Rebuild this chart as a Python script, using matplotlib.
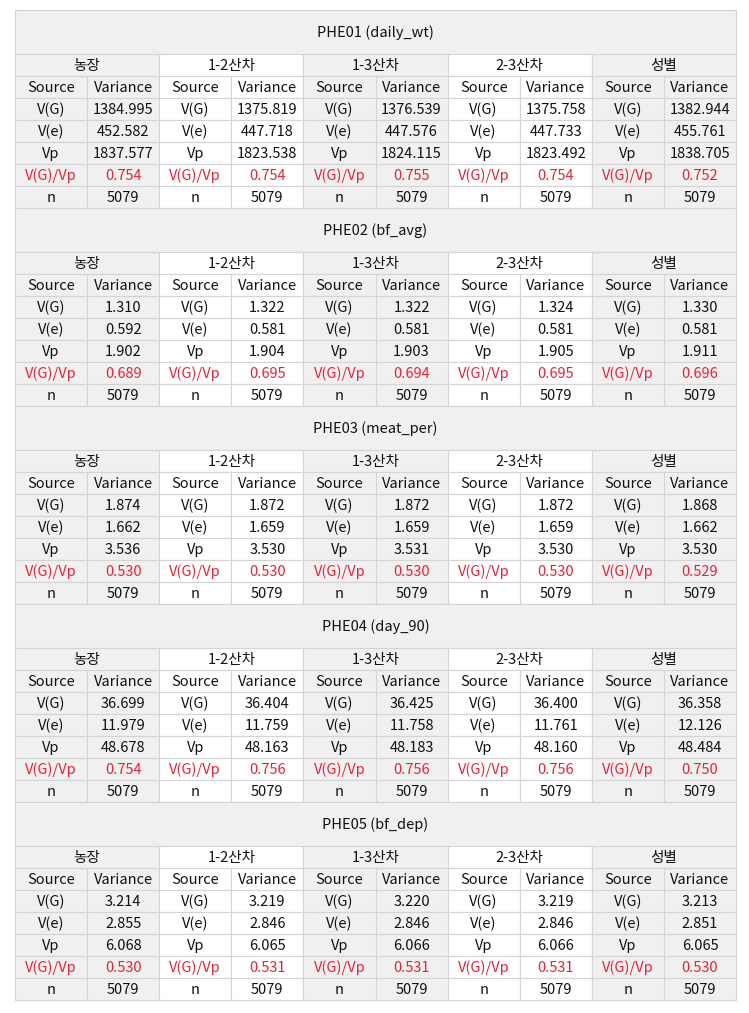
import matplotlib.pyplot as plt
from matplotlib.patches import Rectangle

plt.rcParams['font.family'] = ['Noto Sans CJK KR', 'DejaVu Sans']

titles = ['PHE01 (daily_wt)', 'PHE02 (bf_avg)', 'PHE03 (meat_per)', 'PHE04 (day_90)', 'PHE05 (bf_dep)']
groups = ['농장', '1-2산차', '1-3산차', '2-3산차', '성별']
sources = ['V(G)', 'V(e)', 'Vp', 'V(G)/Vp', 'n']

vg = [[1384.995, 1375.819, 1376.539, 1375.758, 1382.944],
      [1.310, 1.322, 1.322, 1.324, 1.330],
      [1.874, 1.872, 1.872, 1.872, 1.868],
      [36.699, 36.404, 36.425, 36.400, 36.358],
      [3.214, 3.219, 3.220, 3.219, 3.213]]
ve = [[452.582, 447.718, 447.576, 447.733, 455.761],
      [0.592, 0.581, 0.581, 0.581, 0.581],
      [1.662, 1.659, 1.659, 1.659, 1.662],
      [11.979, 11.759, 11.758, 11.761, 12.126],
      [2.855, 2.846, 2.846, 2.846, 2.851]]
vp = [[1837.577, 1823.538, 1824.115, 1823.492, 1838.705],
      [1.902, 1.904, 1.903, 1.905, 1.911],
      [3.536, 3.530, 3.531, 3.530, 3.530],
      [48.678, 48.163, 48.183, 48.160, 48.484],
      [6.068, 6.065, 6.066, 6.066, 6.065]]
ratio = [[0.754, 0.754, 0.755, 0.754, 0.752],
         [0.689, 0.695, 0.694, 0.695, 0.696],
         [0.530, 0.530, 0.530, 0.530, 0.529],
         [0.754, 0.756, 0.756, 0.756, 0.750],
         [0.530, 0.531, 0.531, 0.531, 0.530]]
n = [[5079] * 5] * 5

fig = plt.figure(figsize=(7.49, 10.13), dpi=100)
ax = fig.add_axes([0, 0, 1, 1])
ax.set_xlim(0, 749)
ax.set_ylim(1013, 0)
ax.axis('off')

x0, y0 = 15, 10
cw = 72.1
title_h, rh = 44, 22
gray = '#f0f0f0'
edge = '#d4d4d4'
red = '#e8213a'
fs = 10.5


def cell(x, y, w, h, txt, bg, color='#111111'):
    ax.add_patch(Rectangle((x, y), w, h, facecolor=bg, edgecolor=edge, lw=0.8))
    ax.text(x + w / 2, y + h / 2 + 0.5, txt, ha='center', va='center', fontsize=fs, color=color)


for b, title in enumerate(titles):
    by = y0 + b * (title_h + 7 * rh)
    cell(x0, by, cw * 10, title_h, title, gray)
    for g, grp in enumerate(groups):
        gx = x0 + g * 2 * cw
        bg = gray if g % 2 == 0 else 'white'
        cell(gx, by + title_h, cw * 2, rh, grp, bg)
        rows = [('Source', 'Variance'),
                (sources[0], f'{vg[b][g]:.3f}'),
                (sources[1], f'{ve[b][g]:.3f}'),
                (sources[2], f'{vp[b][g]:.3f}'),
                (sources[3], f'{ratio[b][g]:.3f}'),
                (sources[4], f'{n[b][g]}')]
        for r, (s, v) in enumerate(rows):
            ry = by + title_h + rh * (r + 1)
            col = red if r == 4 else '#111111'
            cell(gx, ry, cw, rh, s, bg, col)
            cell(gx + cw, ry, cw, rh, v, bg, col)

fig.savefig('out.png', dpi=100)
